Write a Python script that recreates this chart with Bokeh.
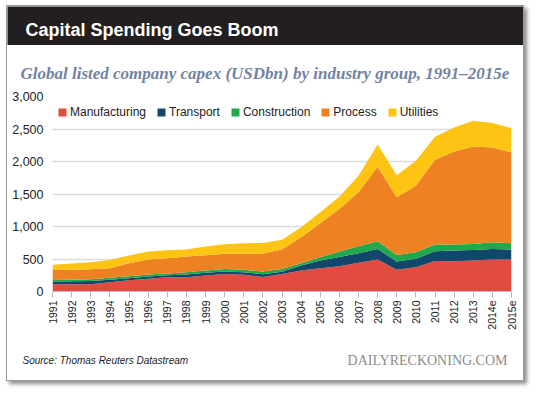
import math
from bokeh.plotting import figure
from bokeh.models import (ColumnDataSource, FixedTicker, NumeralTickFormatter,
                          Range1d, Label, Legend)
from bokeh.layouts import column
from bokeh.embed import file_html
from bokeh.resources import INLINE

# ---------------- data ----------------
years = ["1991", "1992", "1993", "1994", "1995", "1996", "1997", "1998", "1999",
         "2000", "2001", "2002", "2003", "2004", "2005", "2006", "2007", "2008",
         "2009", "2010", "2011", "2012", "2013", "2014e", "2015e"]
manufacturing = [110, 112, 113, 143, 174, 195, 220, 220, 246, 271, 256, 225, 268,
                 322, 358, 389, 441, 491, 333, 373, 471, 466, 476, 491, 491]
transport = [44, 45, 49, 37, 31, 35, 31, 41, 41, 36, 41, 41, 37,
             77, 118, 140, 148, 164, 128, 129, 148, 164, 164, 164, 154]
construction = [24, 25, 26, 30, 31, 31, 25, 36, 36, 41, 36, 41, 40,
                36, 51, 85, 107, 118, 102, 102, 103, 92, 92, 103, 97]
process = [152, 154, 155, 148, 199, 230, 236, 241, 235, 231, 246, 277, 300,
           400, 522, 656, 830, 1147, 886, 1024, 1306, 1433, 1500, 1459, 1398]
utilities = [82, 96, 108, 126, 118, 123, 123, 107, 133, 148, 163, 163, 150,
             153, 169, 189, 256, 340, 338, 384, 353, 369, 395, 374, 374]
series_names = ["Manufacturing", "Transport", "Construction", "Process", "Utilities"]
series_colors = ["#e34b40", "#10476a", "#21a74c", "#ee8222", "#fdc414"]
y_ticks = [0, 500, 1000, 1500, 2000, 2500, 3000]

xs = list(range(len(years)))
src = ColumnDataSource(dict(x=xs, Manufacturing=manufacturing, Transport=transport,
                            Construction=construction, Process=process,
                            Utilities=utilities))

W = 516


def text_strip(height, bg):
    f = figure(width=W, height=height, x_range=Range1d(0, W), y_range=Range1d(0, height),
               x_axis_location=None, y_axis_location=None, min_border=0,
               output_backend="svg", toolbar_location=None)
    f.frame_align = False
    f.grid.visible = False
    f.outline_line_color = None
    f.background_fill_color = bg
    f.border_fill_color = bg
    return f


# ---------------- header ----------------
hdr = text_strip(39, "#231f20")
hdr.add_layout(Label(x=18, y=16, x_units="screen", y_units="screen",
                     text="Capital Spending Goes Boom", text_color="white",
                     text_font="Liberation Sans", text_font_style="bold",
                     text_font_size="18px", text_baseline="alphabetic"))

# ---------------- subtitle ----------------
sub = text_strip(40, "white")
sub.add_layout(Label(x=13, y=12, x_units="screen", y_units="screen",
                     text="Global listed company capex (USDbn) by industry group, 1991\u20132015e",
                     text_color="#7383a3", text_font="Liberation Serif",
                     text_font_style="bold italic", text_font_size="17px",
                     text_baseline="alphabetic"))

# ---------------- main chart ----------------
p = figure(frame_width=459, frame_height=195,
           x_range=Range1d(0, len(years) - 1), y_range=Range1d(0, 3000),
           min_border_left=45, min_border_right=12, min_border_top=11,
           min_border_bottom=55, output_backend="svg", toolbar_location=None)
p.frame_align = False
p.outline_line_color = None
p.background_fill_color = "white"
p.border_fill_color = "white"

renderers = p.varea_stack(stackers=series_names, x="x", color=series_colors, source=src)

legend = Legend(items=[(n, [r]) for n, r in zip(series_names, renderers)],
                orientation="horizontal", location=(5, 172),
                glyph_width=10, glyph_height=10, label_height=10, label_width=10,
                label_standoff=3, spacing=10, padding=0, margin=0,
                label_text_font="Liberation Sans", label_text_font_size="12px",
                label_text_color="#222222",
                background_fill_alpha=0, border_line_alpha=0)
p.add_layout(legend)

# x axis
p.xaxis.ticker = FixedTicker(ticks=xs)
p.xaxis.major_label_overrides = {i: y for i, y in zip(xs, years)}
p.xaxis.major_label_orientation = math.pi / 2
p.xaxis.major_tick_out = 6
p.xaxis.major_tick_in = 0
p.xaxis.minor_tick_line_color = None
p.xaxis.axis_line_color = "#bbbbbb"
p.xaxis.major_tick_line_color = "#bbbbbb"
p.xaxis.major_label_standoff = 3
p.xaxis.major_label_text_font = "Liberation Sans"
p.xaxis.major_label_text_font_size = "10.5px"
p.xaxis.major_label_text_color = "#222222"

# y axis
p.yaxis.ticker = FixedTicker(ticks=y_ticks)
p.yaxis.formatter = NumeralTickFormatter(format="0,0")
p.yaxis.axis_line_color = None
p.yaxis.major_tick_line_color = None
p.yaxis.minor_tick_line_color = None
p.yaxis.major_label_standoff = 3
p.yaxis.major_label_text_font = "Liberation Sans"
p.yaxis.major_label_text_font_size = "12.5px"
p.yaxis.major_label_text_color = "#222222"

p.xgrid.grid_line_color = None
p.ygrid.grid_line_color = "#dcdcdc"
p.ygrid.grid_line_width = 1.5

# ---------------- footer ----------------
ftr = text_strip(34, "white")
ftr.add_layout(Label(x=15, y=20, x_units="screen", y_units="screen",
                     text="Source: Thomas Reuters Datastream", text_color="#222222",
                     text_font="Liberation Sans", text_font_style="italic",
                     text_font_size="10px", text_baseline="alphabetic"))
ftr.add_layout(Label(x=500, y=20, x_units="screen", y_units="screen",
                     text="DAILYRECKONING.COM", text_color="#8c8c8c",
                     text_font="Liberation Serif", text_font_size="14px",
                     text_align="right", text_baseline="alphabetic"))

layout = column(hdr, sub, p, ftr, spacing=0,
                styles={"border": "1px solid #9a9a9a",
                        "box-shadow": "3px 3px 4px rgba(0,0,0,0.45)",
                        "margin": "5px 0 0 6px"})

open("out.html", "w").write(file_html(layout, INLINE))
